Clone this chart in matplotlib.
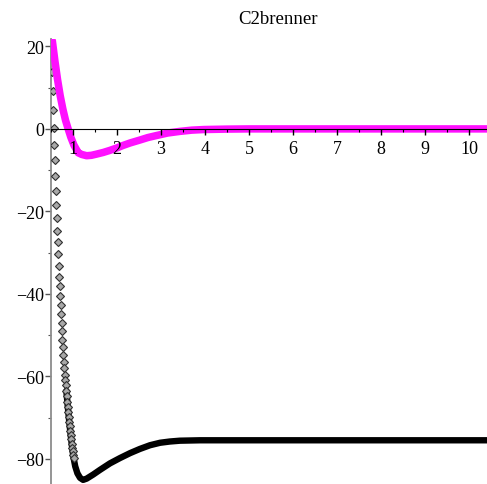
import numpy as np
import matplotlib
matplotlib.use("Agg")
import matplotlib.pyplot as plt
from matplotlib.ticker import MultipleLocator, FixedLocator

# black curve, steep part (separate dots)
bx_dots = [0.530, 0.541, 0.552, 0.563, 0.574, 0.585, 0.596, 0.607, 0.618, 0.629,
           0.640, 0.651, 0.662, 0.673, 0.684, 0.695, 0.706, 0.717, 0.728, 0.739,
           0.750, 0.761, 0.772, 0.783, 0.794, 0.805, 0.816, 0.827, 0.838, 0.849,
           0.860, 0.871, 0.882, 0.893, 0.904, 0.915, 0.926, 0.937, 0.948, 0.959,
           0.970, 0.981, 0.992, 1.003, 1.014]
by_dots = [13.7, 9.3, 4.7, 0.2, -3.9, -7.5, -11.3, -15.0, -18.4, -21.6,
           -24.7, -27.5, -30.3, -33.3, -36.0, -38.2, -40.4, -42.8, -45.0, -47.1,
           -49.1, -51.1, -52.9, -54.7, -56.4, -58.0, -59.6, -61.0, -62.2, -63.5,
           -64.8, -66.1, -67.4, -68.6, -69.8, -71.0, -72.1, -73.2, -74.3, -75.3,
           -76.3, -77.3, -78.2, -79.0, -79.8]

# black curve, dense part
bx_line = [0.849, 0.871, 0.893, 0.915, 0.937, 0.959, 0.981, 1.003, 1.014, 1.05,
           1.10, 1.16, 1.23, 1.31, 1.46, 1.61, 1.84, 2.07, 2.30, 2.52,
           2.75, 2.98, 3.20, 3.43, 3.89, 4.5, 5, 6, 7, 8, 9, 10, 10.5]
by_line = [-63.5, -66.1, -68.6, -71.0, -73.2, -75.3, -77.3, -79.0, -79.8, -81.8,
           -83.5, -84.6, -85.1, -84.8, -83.8, -82.7, -81.1, -79.8, -78.6, -77.6,
           -76.7, -76.1, -75.8, -75.6, -75.5, -75.5, -75.5, -75.5, -75.5, -75.5, -75.5, -75.5, -75.5]

# magenta curve
mx = [0.53, 0.59, 0.65, 0.71, 0.77, 0.83, 0.89, 0.95, 1.02, 1.12,
      1.20, 1.31, 1.42, 1.54, 1.69, 1.84, 2.00, 2.14, 2.30, 2.52,
      2.70, 2.90, 3.15, 3.43, 3.70, 3.98, 4.5, 5, 6, 7, 8, 9, 10, 10.5]
my = [21.4, 16.4, 11.9, 8.0, 4.8, 2.1, 0.0, -2.0, -3.9, -5.8,
      -6.2, -6.5, -6.4, -6.1, -5.7, -5.2, -4.6, -4.0, -3.4, -2.7,
      -2.1, -1.6, -1.0, -0.6, -0.3, -0.15, -0.05, 0, 0, 0, 0, 0, 0, 0]

serif = ['Liberation Serif', 'DejaVu Serif']

fig = plt.figure(figsize=(4.87, 4.85), dpi=100)
ax = fig.add_axes([51/487, 0, 436/487, 445/485])

ax.plot(bx_line, by_line, color='black', lw=4.6, solid_capstyle='round', zorder=2)
ax.plot(bx_dots, by_dots, ls='none', marker='D', markersize=3.6,
        mfc='#a8a8a8', mec='#303030', mew=0.8, zorder=3)
ax.plot(mx, my, color='#ff10ff', lw=5.4, solid_capstyle='round',
        solid_joinstyle='round', zorder=4)

ax.set_xlim(0.5, 10.41)
ax.set_ylim(-86.1, 21.8)

for s in ['top', 'right']:
    ax.spines[s].set_visible(False)
ax.spines['bottom'].set_position(('data', 0))
ax.spines['bottom'].set_color('black')
ax.spines['bottom'].set_zorder(6)
ax.spines['left'].set_color('#8c8c8c')
ax.spines['left'].set_linewidth(1.3)
ax.xaxis.set_zorder(7)

ax.xaxis.set_major_locator(FixedLocator(range(1, 11)))
ax.xaxis.set_minor_locator(MultipleLocator(0.5))
ax.yaxis.set_major_locator(MultipleLocator(20))
ax.yaxis.set_minor_locator(MultipleLocator(10))

ax.tick_params(axis='x', which='major', direction='out', length=4, width=1,
               pad=4, labelsize=13)
ax.tick_params(axis='x', which='minor', direction='out', length=2.5, width=0.8)
ax.tick_params(axis='y', which='major', direction='out', length=4, width=1,
               color='#555555', pad=1, labelsize=13)
ax.tick_params(axis='y', which='minor', direction='out', length=2.5, width=0.8,
               color='#555555')
for lab in ax.get_xticklabels() + ax.get_yticklabels():
    lab.set_family(serif)

fig.text(278/487, 1 - 20/485, 'C2brenner', ha='center', va='center',
         fontsize=13.5, family=serif)

fig.savefig('out.png', dpi=100)
